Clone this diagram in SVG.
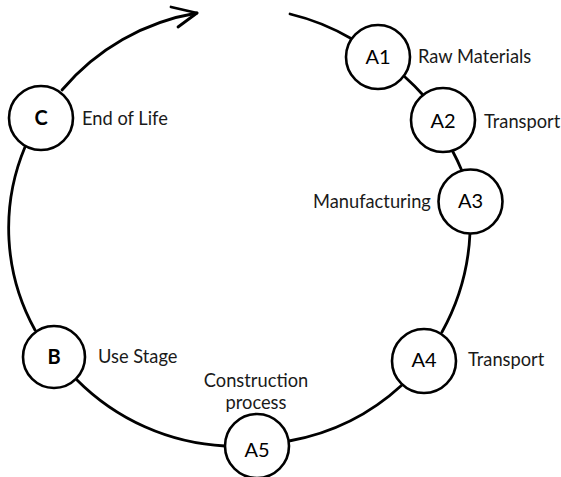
<svg xmlns="http://www.w3.org/2000/svg" width="561" height="477" viewBox="0 0 561 477">
<style>
.node circle{fill:#fff;stroke:#000;stroke-width:2.6}
.conn path,.conn polyline{fill:none;stroke:#000;stroke-width:2.8;stroke-linecap:round;stroke-linejoin:round}
text{font-family:"Lato","Open Sans","Liberation Sans",sans-serif;font-size:18.3px;fill:#1a1a1a}
.id{font-size:20px;text-anchor:middle;fill:#000}
.b{font-weight:bold}
</style>
<rect width="561" height="477" fill="#fff"/>
<g id="connectors" class="conn">
<path d="M62,90 A225,225 0 0 1 197,13"/>
<polyline points="171,7 197,13 178,27"/>
<path d="M290,14 A225,225 0 0 1 352,39"/>
<path d="M405,77 A225,225 0 0 1 423,95"/>
<path d="M452,150 A225,225 0 0 1 462,171"/>
<path d="M470,233 A225,225 0 0 1 442,332"/>
<path d="M402,385 A225,225 0 0 1 289,441"/>
<path d="M225,446 A225,225 0 0 1 77,380"/>
<path d="M35,330 A210,210 0 0 1 25,147"/>
</g>
<g id="A1" class="node"><circle cx="378" cy="57" r="32"/><text class="id" x="378" y="64">A1</text><text x="418" y="63">Raw Materials</text></g>
<g id="A2" class="node"><circle cx="443" cy="120" r="32"/><text class="id" x="443" y="128">A2</text><text x="484" y="128">Transport</text></g>
<g id="A3" class="node"><circle cx="470.5" cy="201.5" r="32"/><text class="id" x="470.5" y="208">A3</text><text x="313" y="208">Manufacturing</text></g>
<g id="A4" class="node"><circle cx="424" cy="361" r="32"/><text class="id" x="424" y="367">A4</text><text x="468" y="366">Transport</text></g>
<g id="A5" class="node"><circle cx="257" cy="446" r="32"/><text class="id" x="257" y="457">A5</text><text x="256" y="387" text-anchor="middle">Construction</text><text x="256" y="409" text-anchor="middle">process</text></g>
<g id="B" class="node"><circle cx="54" cy="357" r="31"/><text class="id b" x="54" y="364">B</text><text x="98" y="363">Use Stage</text></g>
<g id="C" class="node"><circle cx="41" cy="118" r="32"/><text class="id b" x="41" y="125">C</text><text x="82" y="125">End of Life</text></g>
</svg>
